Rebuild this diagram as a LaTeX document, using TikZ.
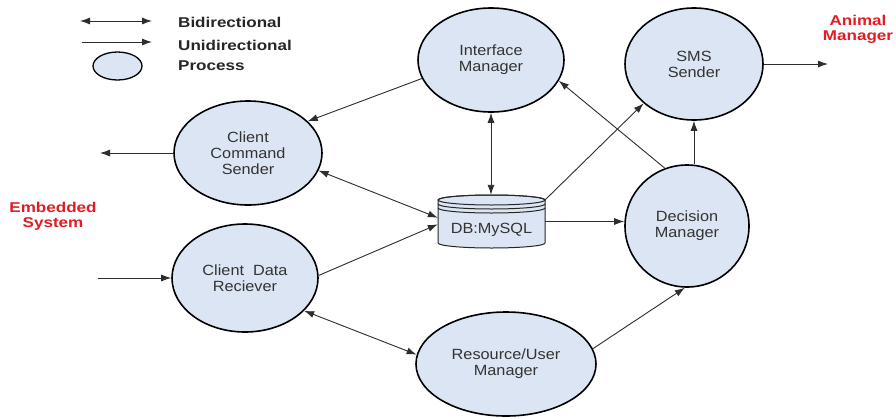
\documentclass[tikz,border=0pt]{standalone}
\usepackage{fontspec}
\setmainfont{Liberation Sans}
\newfontfamily\procfont[FakeStretch=1.1]{Liberation Sans}
\newfontfamily\headfont[FakeStretch=1.2]{Liberation Sans}
\usetikzlibrary{arrows.meta,calc,shapes.geometric}

\definecolor{procfill}{RGB}{220,229,244}
\definecolor{txtgray}{RGB}{51,51,51}
\definecolor{linegray}{RGB}{45,45,45}
\definecolor{labelred}{RGB}{226,27,36}

\begin{document}
\begin{tikzpicture}[x=1pt,y=-1pt,
  proc/.style={ellipse, draw=black, line width=1.6pt, fill=procfill, inner sep=0pt,
    align=center, text=txtgray, font=\procfont\fontsize{14.8}{16}\selectfont},
  link/.style={draw=linegray, line width=0.9pt},
  tip/.tip={Latex[length=10pt,width=7pt]},
  uni/.style={link, -tip},
  bi/.style={link, tip-tip},
  legtext/.style={anchor=west, inner sep=0pt, text=black!85,
    font=\headfont\bfseries\fontsize{14.2}{15}\selectfont},
  extlabel/.style={align=center, inner sep=0pt, text=labelred,
    font=\headfont\bfseries\fontsize{14.2}{15}\selectfont}
]
\fill[white] (0,0) rectangle (896,418);
\useasboundingbox (0,0) rectangle (896,418);

% legend
\coordinate (legbiL) at (80,21);
\coordinate (legbiR) at (152,21);
\coordinate (leguniL) at (82,42);
\coordinate (leguniR) at (152,42);
\draw[bi] (legbiL) -- (legbiR);
\draw[uni] (leguniL) -- (leguniR);
\node[proc, line width=1.3pt, minimum width=49, minimum height=28] (legproc) at (117.5,66) {};
\node[legtext] (legbitext) at (178,22) {Bidirectional};
\node[legtext] (legunitext) at (178,45) {Unidirectional};
\node[legtext] (legproctext) at (178,66) {Process};

% external actors
\node[extlabel] (embedded) at (53,216) {Embedded\\System};
\node[extlabel] (animal) at (858,29) {Animal\\Manager};

% processes
\node[proc, minimum width=146, minimum height=104] (im) at (491,60) {Interface\\Manager};
\node[proc, minimum width=138, minimum height=112] (sms) at (694,64) {SMS\\Sender};
\node[proc, minimum width=148, minimum height=104] (ccs) at (248,153) {Client\\Command\\Sender};
\node[proc, minimum width=146, minimum height=108] (cdr) at (245,278) {Client~~Data\\Reciever};
\node[proc, minimum width=180, minimum height=104] (rum) at (506,364) {Resource/User\\Manager};
\node[proc, minimum width=124, minimum height=122] (dm) at (687,226) {Decision\\Manager};

% database cylinder
\node[minimum width=107, minimum height=53, inner sep=0pt] (db) at (491.5,221.5) {};
\begin{scope}[shift={(db.center)}, draw=black!85, line width=1pt]
  \filldraw[fill=procfill] (-53.5,-21.5) -- (-53.5,21.5)
    arc[start angle=180, end angle=0, x radius=53.5, y radius=5]
    -- (53.5,-21.5)
    arc[start angle=0, end angle=-180, x radius=53.5, y radius=5] -- cycle;
  \draw (0,-21.5) ellipse [x radius=53.5, y radius=5];
  \draw (-53.5,-17.5) arc[start angle=180, end angle=0, x radius=53.5, y radius=5];
  \draw (-53.5,-13.5) arc[start angle=180, end angle=0, x radius=53.5, y radius=5];
\end{scope}
\node[text=txtgray, font=\procfont\fontsize{14.8}{16}\selectfont] (dbtext) at (491.5,230) {DB:MySQL};

% free ends towards the external actors
\coordinate (cmdout) at (100,153);
\coordinate (datain) at (98,278);
\coordinate (smsout) at (828,64);

% connectors
\draw[uni] (im.195) -- (ccs.28);
\draw[uni] (ccs.west) -- (cmdout);
\draw[bi] (ccs.-14) -- (db.176);
\draw[uni] (cdr.2) -- (db.183);
\draw[uni] (datain) -- (cdr.west);
\draw[bi] (cdr.-29) -- (rum.174);
\draw[bi] (im.south) -- (im.south |- db.north);
\draw[uni] (db.east) -- (db.east -| dm.west);
\draw[uni] (db.22) -- (sms.218);
\draw[uni] (dm.111) -- (im.-17);
\draw[uni] (sms.south |- dm.north) -- (sms.south);
\draw[uni] (sms.east) -- (smsout);
\draw[uni] (rum.10) -- (dm.-92);
\end{tikzpicture}
\end{document}
